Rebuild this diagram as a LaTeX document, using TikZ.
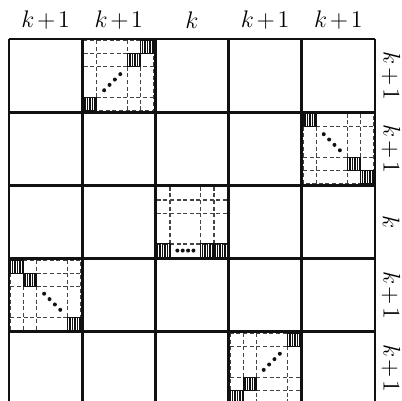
\documentclass[tikz,border=0pt]{standalone}
\usepackage{amsmath}
\usepackage{xcolor}
\usepackage{tikz}
\usetikzlibrary{patterns.meta}
\definecolor{gridblack}{HTML}{111111}
\definecolor{dashgray}{HTML}{444444}
\tikzset{
  gridline/.style={gridblack,line width=1.4pt},
  subgrid/.style={dashgray,line width=0.6pt,dash pattern=on 2pt off 1.3pt},
  hatchbox/.style={draw=gridblack,line width=0.5pt,pattern={Lines[angle=90,distance=1.25pt,line width=0.6pt]},pattern color=gridblack},
  dotmark/.style={gridblack},
  sizelabel/.style={inner sep=0pt,font=\fontsize{12}{14}\selectfont}
}

\begin{document}
\begin{tikzpicture}[x=1.286cm,y=-1.286cm]
\useasboundingbox (-0.123,-0.533) rectangle (5.369,4.945);
\clip (-0.123,-0.533) rectangle (5.369,4.945);
% block sizes along the top
\node[sizelabel] (c1) at (0.5,-0.26) {$k\mskip2mu{+}\mskip2mu1$};
\node[sizelabel] (c2) at (1.5,-0.26) {$k\mskip2mu{+}\mskip2mu1$};
\node[sizelabel] (c3) at (2.5,-0.26) {$k$};
\node[sizelabel] (c4) at (3.5,-0.26) {$k\mskip2mu{+}\mskip2mu1$};
\node[sizelabel] (c5) at (4.5,-0.26) {$k\mskip2mu{+}\mskip2mu1$};
% and down the right side
\node[sizelabel,rotate=-90] (r1) at (5.22,0.5) {$k\mskip2mu{+}\mskip2mu1$};
\node[sizelabel,rotate=-90] (r2) at (5.22,1.5) {$k\mskip2mu{+}\mskip2mu1$};
\node[sizelabel,rotate=-90] (r3) at (5.22,2.5) {$k$};
\node[sizelabel,rotate=-90] (r4) at (5.22,3.5) {$k\mskip2mu{+}\mskip2mu1$};
\node[sizelabel,rotate=-90] (r5) at (5.22,4.5) {$k\mskip2mu{+}\mskip2mu1$};
% block (1,2): anti-diagonal
\begin{scope}[shift={(1,0)}]
\draw[subgrid] (0.02,0.02) rectangle (0.98,0.98);
\foreach \x in {0.20,0.62,0.80} \draw[subgrid] (\x,0.02) -- (\x,0.98);
\foreach \y in {0.20,0.38,0.80} \draw[subgrid] (0.02,\y) -- (0.98,\y);
\draw[hatchbox] (0.80,0.02) rectangle (0.98,0.20);
\draw[hatchbox] (0.62,0.20) rectangle (0.80,0.38);
\draw[hatchbox] (0.02,0.80) rectangle (0.20,0.98);
\foreach \t in {-1,-0.333,0.333,1} \fill[dotmark] (0.41+0.11*\t,0.59-0.11*\t) circle (1pt);
\end{scope}
% block (2,5): diagonal
\begin{scope}[shift={(4,1)}]
\draw[subgrid] (0.02,0.02) rectangle (0.98,0.98);
\foreach \x in {0.20,0.62,0.80} \draw[subgrid] (\x,0.02) -- (\x,0.98);
\foreach \y in {0.20,0.62,0.80} \draw[subgrid] (0.02,\y) -- (0.98,\y);
\draw[hatchbox] (0.02,0.02) rectangle (0.20,0.20);
\draw[hatchbox] (0.62,0.62) rectangle (0.80,0.80);
\draw[hatchbox] (0.80,0.80) rectangle (0.98,0.98);
\foreach \t in {-1,-0.333,0.333,1} \fill[dotmark] (0.41+0.11*\t,0.41+0.11*\t) circle (1pt);
\end{scope}
% block (3,3): last row filled
\begin{scope}[shift={(2,2)}]
\draw[subgrid] (0.02,0.02) rectangle (0.98,0.98);
\foreach \x in {0.20,0.62,0.80} \draw[subgrid] (\x,0.02) -- (\x,0.98);
\foreach \y in {0.20,0.38,0.80} \draw[subgrid] (0.02,\y) -- (0.98,\y);
\draw[hatchbox] (0.02,0.80) rectangle (0.20,0.98);
\draw[hatchbox] (0.62,0.80) rectangle (0.80,0.98);
\draw[hatchbox] (0.80,0.80) rectangle (0.98,0.98);
\foreach \t in {-1,-0.333,0.333,1} \fill[dotmark] (0.41+0.11*\t,0.89) circle (1pt);
\end{scope}
% block (4,1): diagonal
\begin{scope}[shift={(0,3)}]
\draw[subgrid] (0.02,0.02) rectangle (0.98,0.98);
\foreach \x in {0.20,0.38,0.80} \draw[subgrid] (\x,0.02) -- (\x,0.98);
\foreach \y in {0.20,0.38,0.80} \draw[subgrid] (0.02,\y) -- (0.98,\y);
\draw[hatchbox] (0.02,0.02) rectangle (0.20,0.20);
\draw[hatchbox] (0.20,0.20) rectangle (0.38,0.38);
\draw[hatchbox] (0.80,0.80) rectangle (0.98,0.98);
\foreach \t in {-1,-0.333,0.333,1} \fill[dotmark] (0.59+0.11*\t,0.59+0.11*\t) circle (1pt);
\end{scope}
% block (5,4): anti-diagonal
\begin{scope}[shift={(3,4)}]
\draw[subgrid] (0.02,0.02) rectangle (0.98,0.98);
\foreach \x in {0.20,0.38,0.80} \draw[subgrid] (\x,0.02) -- (\x,0.98);
\foreach \y in {0.20,0.62,0.80} \draw[subgrid] (0.02,\y) -- (0.98,\y);
\draw[hatchbox] (0.80,0.02) rectangle (0.98,0.20);
\draw[hatchbox] (0.20,0.62) rectangle (0.38,0.80);
\draw[hatchbox] (0.02,0.80) rectangle (0.20,0.98);
\foreach \t in {-1,-0.333,0.333,1} \fill[dotmark] (0.59+0.11*\t,0.41-0.11*\t) circle (1pt);
\end{scope}
% the 5x5 block grid
\foreach \i in {0,...,5} {
  \draw[gridline] (\i,0) -- (\i,5);
  \draw[gridline] (0,\i) -- (5,\i);
}
\end{tikzpicture}
\end{document}
